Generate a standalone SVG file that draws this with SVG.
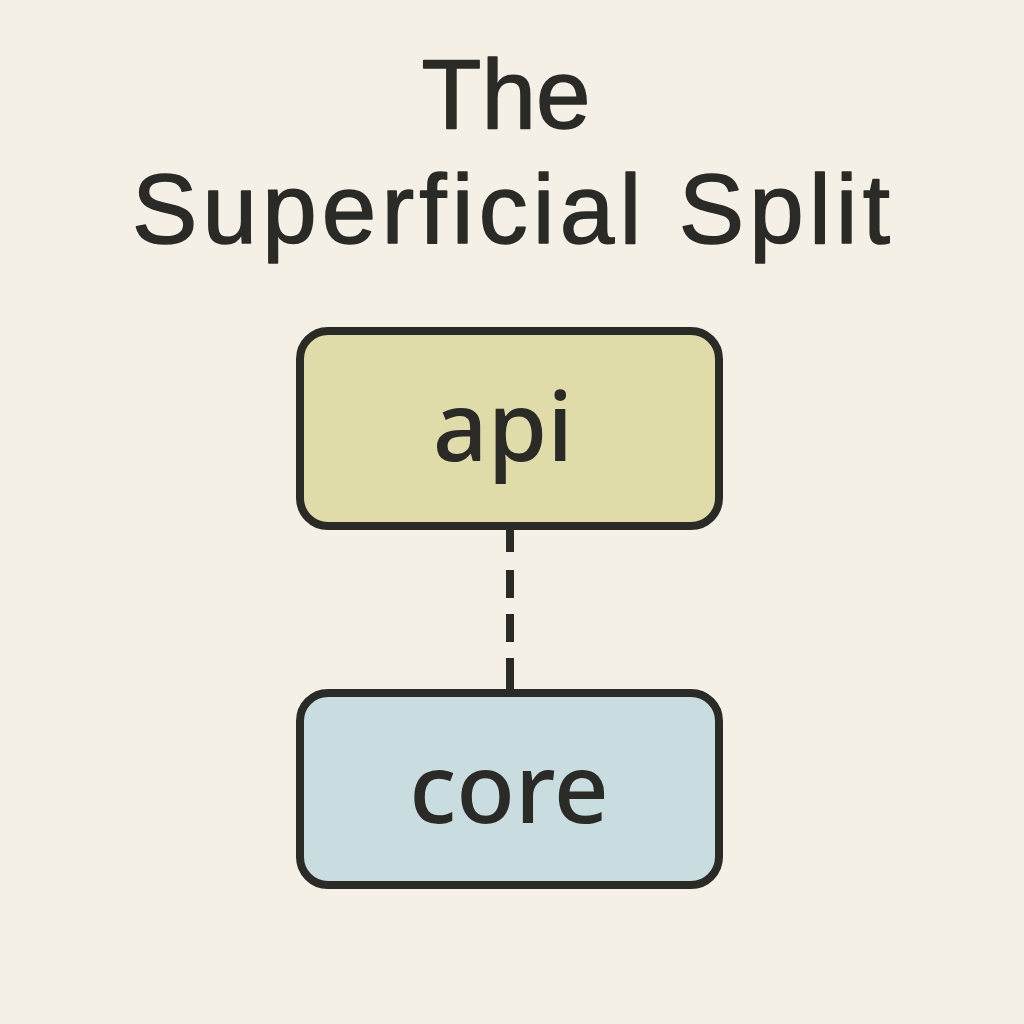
<svg xmlns="http://www.w3.org/2000/svg" width="1024" height="1024" viewBox="0 0 1024 1024">
<style>
.title{font-family:"Liberation Sans","Noto Sans",sans-serif;font-size:98px;fill:#2a2a26;stroke:#2a2a26;stroke-width:1.5;stroke-linejoin:round;text-anchor:middle}
.lbl{font-family:"Noto Sans","Liberation Sans",sans-serif;font-size:96px;fill:#2a2a26;text-anchor:middle;font-weight:500}
.box{stroke:#2a2a26;stroke-width:8}
.conn{stroke:#2a2a26;stroke-width:8;fill:none;stroke-dasharray:24 18 28 16 28 16 40}
</style>
<rect width="1024" height="1024" fill="#f5f0e6"/>
<g id="title">
<text class="title" x="506" y="128">The</text>
<text class="title" x="511" y="243" textLength="758" lengthAdjust="spacing">Superficial Split</text>
</g>
<g id="connectors">
<line class="conn" x1="510" y1="528" x2="510" y2="692"/>
</g>
<g id="node-api">
<rect class="box" x="300" y="331" width="419" height="195" rx="28" fill="#e0dcaa"/>
<text class="lbl" x="503" y="461">api</text>
</g>
<g id="node-core">
<rect class="box" x="300" y="693" width="419" height="192" rx="28" fill="#c9dde0"/>
<text class="lbl" x="509" y="823">core</text>
</g>
</svg>
